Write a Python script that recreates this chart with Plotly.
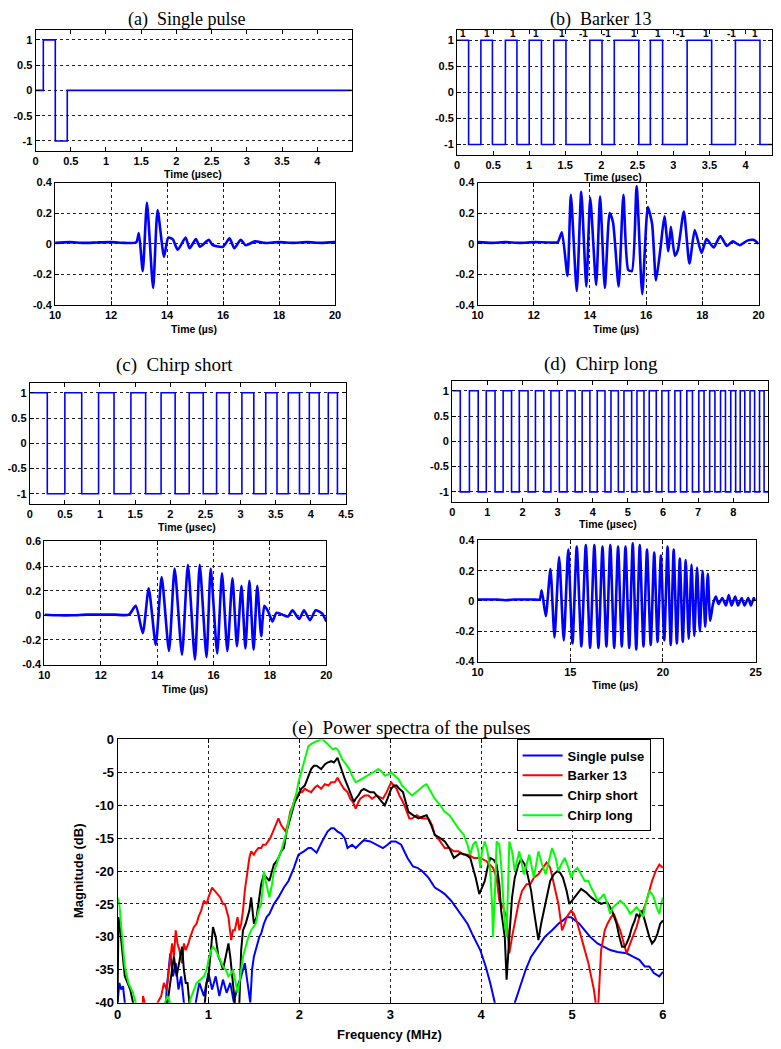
import plotly.graph_objects as go

W, H = 781, 1049
OFF = 8  # page body margin of the rendered html
BLUE = '#0000FF'

# ---------------- DATA ----------------
# (a) single pulse excitation (transition times, level after transition)
a_tx_t = [0, 0.11, 0.28, 0.45, 4.49]
a_tx_v = [0, 1, -1, 0, 0]

# (a) received signal (extrema)
a_rx_t = [10, 10.5, 11, 11.5, 12, 12.5, 12.9, 12.99, 13.13, 13.28, 13.5, 13.66, 13.89, 14.04, 14.2, 14.38,
          14.66, 14.8, 15.03, 15.17, 15.49, 15.63, 16.0, 16.23, 16.4, 16.63, 16.81, 17.14, 17.5, 18, 18.5, 19, 19.5, 20]
a_rx_v = [0.005, 0.01, 0.005, 0.008, 0.01, 0.005, 0.01, 0.07, -0.18, 0.27, -0.29, 0.22, -0.085, 0.04, 0.03, -0.04,
          0.04, -0.03, 0.03, -0.02, 0.025, -0.01, -0.02, 0.035, -0.03, 0.025, -0.01, 0.015, 0.005, 0.01, 0.005, 0.01, 0.005, 0.01]

# (b) Barker 13 excitation
b_tx_t = [0, 0.16, 0.33, 0.49, 0.67, 0.83, 1.00, 1.17, 1.34, 1.51, 1.84, 2.01, 2.18, 2.52, 2.68, 2.85,
          3.19, 3.53, 3.86, 4.20, 4.37]
b_tx_v = [1, -1, 1, -1, 1, -1, 1, -1, 1, -1, 1, -1, 1, -1, 1, -1, 1, -1, 1, -1, -1]
b_code = ['1', '1', '1', '1', '1', '-1', '-1', '1', '1', '-1', '1', '-1', '1']
b_code_t = [0.08, 0.42, 0.77, 1.09, 1.45, 1.75, 2.07, 2.45, 2.78, 3.10, 3.45, 3.81, 4.13]

b_rx_t = [10, 10.5, 11, 11.5, 12, 12.5, 12.85, 13.0, 13.2, 13.32, 13.53, 13.69, 13.87, 14.01, 14.22, 14.36, 14.53,
          14.7, 14.82, 15.02, 15.19, 15.36, 15.49, 15.66, 15.86, 16.06, 16.21, 16.35, 16.51, 16.65, 16.79, 16.88,
          17.02, 17.13, 17.34, 17.54, 17.73, 17.97, 18.15, 18.40, 18.64, 18.87, 19.08, 19.33, 19.6, 19.81, 20]
b_rx_v = [0.01, 0.005, 0.01, 0.005, 0.01, 0.008, 0.01, 0.075, -0.21, 0.32, -0.31, 0.34, -0.28, 0.30, -0.27, 0.31, -0.29,
          0.2, 0.14, -0.28, 0.32, -0.17, -0.18, 0.375, -0.33, 0.24, 0.13, -0.24, -0.03, 0.18, -0.05, 0.11,
          -0.08, -0.04, 0.21, -0.13, 0.09, -0.06, 0.03, -0.025, 0.05, -0.015, 0.015, -0.01, 0.02, 0.025, 0.0]

# (c) chirp short excitation
c_tx_t = [0, 0.25, 0.50, 0.74, 0.98, 1.20, 1.44, 1.65, 1.87, 2.07, 2.27, 2.47, 2.66, 2.84, 3.02, 3.19,
          3.36, 3.52, 3.68, 3.84, 3.98, 4.12, 4.25, 4.38, 4.5]
c_tx_v = [1, -1, 1, -1, 1, -1, 1, -1, 1, -1, 1, -1, 1, -1, 1, -1, 1, -1, 1, -1, 1, -1, 1, -1, -1]

c_rx_t = [10, 10.5, 11, 11.5, 12, 12.5, 13.0, 13.24, 13.49, 13.7, 13.95, 14.16, 14.42, 14.62, 14.88, 15.09, 15.34,
          15.51, 15.75, 15.9, 16.13, 16.3, 16.49, 16.67, 16.83, 16.99, 17.13, 17.27, 17.42, 17.55, 17.69, 17.8,
          17.94, 18.09, 18.23, 18.5, 18.64, 18.8, 19.04, 19.21, 19.42, 19.62, 19.85, 20]
c_rx_v = [0.005, 0.0, 0.0, 0.005, 0.005, 0.005, 0.005, 0.077, -0.145, 0.22, -0.24, 0.31, -0.29, 0.38, -0.32, 0.41, -0.36,
          0.41, -0.34, 0.38, -0.31, 0.34, -0.29, 0.30, -0.25, 0.24, -0.27, 0.28, -0.28, 0.24, -0.17, 0.077,
          0.03, -0.05, 0.02, 0.0, -0.01, 0.04, -0.03, 0.04, -0.04, 0.04, 0.015, -0.05]

# (d) chirp long excitation
d_tx_t = [0, 0.23, 0.49, 0.74, 0.97, 1.22, 1.45, 1.69, 1.91, 2.16, 2.37, 2.61, 2.81, 3.05, 3.27, 3.50,
          3.70, 3.92, 4.13, 4.35, 4.52, 4.73, 4.89, 5.11, 5.26, 5.46, 5.61, 5.81, 5.97, 6.16, 6.34, 6.50,
          6.68, 6.84, 7.02, 7.17, 7.33, 7.48, 7.64, 7.78, 7.93, 8.07, 8.20, 8.33, 8.48, 8.61, 8.75, 8.88, 9.0]
d_tx_v = [1, -1, 1, -1, 1, -1, 1, -1, 1, -1, 1, -1, 1, -1, 1, -1, 1, -1, 1, -1, 1, -1, 1, -1,
          1, -1, 1, -1, 1, -1, 1, -1, 1, -1, 1, -1, 1, -1, 1, -1, 1, -1, 1, -1, 1, -1, 1, -1, -1]

d_rx_t = [10, 10.5, 11, 11.5, 12, 12.5, 13, 13.35,
          13.46, 13.68, 13.93, 14.15, 14.40, 14.65, 14.89, 15.12, 15.35, 15.6, 15.84, 16.07, 16.30, 16.52,
          16.74, 16.95, 17.16, 17.37, 17.58, 17.78, 17.98, 18.18, 18.37, 18.56, 18.75, 18.95, 19.14, 19.34,
          19.53, 19.71, 19.89, 20.07, 20.25, 20.42, 20.58, 20.75, 20.91, 21.07, 21.23, 21.39, 21.54, 21.69,
          21.84, 21.99, 22.14, 22.28, 22.42, 22.55,
          22.7, 22.85, 23.0, 23.2, 23.4, 23.55, 23.7, 23.9, 24.05, 24.25, 24.4, 24.6, 24.75, 24.9, 25]
d_rx_v = [0.01, 0.01, 0.01, 0.005, 0.01, 0.01, 0.01, 0.01,
          0.07, -0.1, 0.21, -0.24, 0.29, -0.26, 0.34, -0.28, 0.36, -0.3, 0.37, -0.31, 0.37, -0.31,
          0.36, -0.3, 0.37, -0.31, 0.36, -0.3, 0.36, -0.31, 0.38, -0.32, 0.37, -0.3, 0.34, -0.29,
          0.32, -0.27, 0.30, -0.26, 0.36, -0.29, 0.34, -0.28, 0.28, -0.27, 0.27, -0.25, 0.24, -0.23,
          0.22, -0.2, 0.20, -0.17, 0.18, -0.13,
          -0.02, 0.03, -0.02, 0.02, -0.03, 0.04, -0.03, 0.03, -0.03, 0.02, -0.03, 0.02, -0.03, 0.02, 0.0]

# (e) power spectra: (frequency MHz, magnitude dB); values below -40 are off-axis
spec_single = [(0.00, -40), (0.02, -37), (0.04, -38), (0.06, -37.5), (0.08, -40), (0.10, -50),
    (0.50, -50), (0.54, -38), (0.58, -32.5), (0.61, -36), (0.64, -34), (0.67, -38), (0.70, -36), (0.73, -40), (0.76, -50),
    (0.82, -50), (0.86, -40), (0.90, -37), (0.95, -39), (1.00, -35.5), (1.04, -38), (1.08, -36), (1.12, -39),
    (1.16, -36.5), (1.20, -38.5), (1.24, -37), (1.28, -40), (1.32, -37.5), (1.36, -36), (1.40, -34), (1.43, -37),
    (1.46, -40), (1.48, -35), (1.50, -33), (1.53, -31.5), (1.56, -30), (1.58, -29.5), (1.61, -28), (1.64, -27),
    (1.67, -26.5), (1.72, -25), (1.77, -24), (1.83, -22.5), (1.88, -21.5), (1.94, -19.5), (1.99, -17.5), (2.05, -17),
    (2.10, -16.5), (2.13, -16.5), (2.19, -17.2), (2.25, -15.5), (2.31, -14), (2.35, -13.5), (2.38, -13.5), (2.42, -14),
    (2.46, -14.3), (2.50, -15), (2.53, -16.5), (2.58, -16), (2.62, -16.5), (2.67, -15.8), (2.71, -15.3), (2.78, -15.5),
    (2.85, -16), (2.92, -16.5), (2.97, -16), (3.01, -15.5), (3.06, -15.5), (3.12, -16), (3.19, -18), (3.25, -19.3),
    (3.30, -19.5), (3.35, -20), (3.42, -21), (3.49, -22.5), (3.55, -23), (3.60, -23.5), (3.67, -24.5), (3.72, -25.5),
    (3.78, -26.5), (3.85, -28), (3.90, -29.5), (3.95, -31), (3.99, -32), (4.05, -34.5), (4.10, -37), (4.15, -40), (4.18, -50),
    (4.33, -50), (4.37, -40), (4.43, -37.5), (4.49, -35), (4.55, -33), (4.60, -32), (4.65, -31), (4.70, -30), (4.78, -29),
    (4.85, -28), (4.90, -27.5), (4.94, -27), (4.99, -27), (5.03, -27.5), (5.08, -28), (5.14, -29), (5.20, -30),
    (5.28, -31), (5.35, -31.5), (5.42, -32), (5.50, -32.3), (5.60, -32.5), (5.67, -33), (5.74, -33.5), (5.80, -34.5),
    (5.85, -34.5), (5.90, -35.5), (5.96, -36), (6.00, -35.3)]

spec_barker = [(0.26, -50), (0.28, -39), (0.30, -40), (0.32, -50),
    (0.40, -50), (0.44, -40), (0.48, -39), (0.51, -37), (0.54, -38), (0.57, -34.5), (0.60, -31), (0.62, -33), (0.64, -29),
    (0.66, -31), (0.68, -32), (0.71, -34), (0.73, -31), (0.75, -32), (0.78, -31), (0.80, -30), (0.84, -28.5), (0.87, -28),
    (0.89, -27), (0.92, -26), (0.95, -24.5), (0.98, -25), (1.00, -24), (1.04, -22.5), (1.07, -23), (1.10, -23.5),
    (1.13, -24), (1.16, -25), (1.18, -25), (1.20, -26), (1.22, -27), (1.25, -30.5), (1.27, -29), (1.29, -29), (1.32, -27),
    (1.34, -29), (1.36, -28), (1.38, -26), (1.40, -23), (1.43, -20), (1.45, -18), (1.47, -17), (1.50, -17.5), (1.52, -17),
    (1.55, -16.5), (1.58, -16.5), (1.60, -16), (1.63, -16), (1.66, -15.5), (1.68, -15), (1.71, -14), (1.74, -13),
    (1.77, -12), (1.80, -13), (1.83, -13.5), (1.85, -14), (1.88, -12.5), (1.90, -11), (1.93, -10), (1.95, -9),
    (1.98, -8.5), (2.00, -8), (2.03, -8), (2.06, -7.5), (2.10, -7.8), (2.13, -8), (2.17, -7.3), (2.20, -7), (2.24, -7.5),
    (2.28, -6.8), (2.32, -7), (2.35, -6.5), (2.39, -6.5), (2.42, -5.8), (2.46, -6.8), (2.49, -7.5), (2.53, -8),
    (2.56, -9), (2.59, -9.5), (2.62, -10.5), (2.65, -9.5), (2.67, -9), (2.72, -8.5), (2.76, -8.5), (2.80, -9),
    (2.85, -8.5), (2.89, -8.8), (2.92, -9), (2.96, -8), (3.01, -6.5), (3.04, -7), (3.07, -7.5), (3.10, -8.5),
    (3.14, -9.5), (3.17, -10.5), (3.21, -12), (3.24, -12), (3.29, -11.5), (3.35, -12), (3.42, -12), (3.46, -13),
    (3.49, -14.5), (3.55, -15.5), (3.60, -16.5), (3.65, -16.5), (3.70, -17), (3.75, -17), (3.81, -17.5), (3.86, -17.5),
    (3.92, -18), (3.99, -18), (4.06, -18.5), (4.13, -19.5), (4.17, -21), (4.20, -24.5), (4.24, -25.5), (4.28, -27),
    (4.31, -32.5), (4.34, -30), (4.37, -28), (4.41, -25), (4.45, -23), (4.50, -22), (4.54, -22), (4.58, -21),
    (4.63, -20.5), (4.68, -19.5), (4.72, -18.7), (4.76, -19.5), (4.81, -22.5), (4.85, -25), (4.89, -29), (4.92, -28),
    (4.94, -27), (4.99, -26), (5.02, -26.5), (5.06, -28), (5.10, -30), (5.14, -32), (5.18, -34), (5.21, -36),
    (5.24, -38), (5.26, -40), (5.27, -44), (5.29, -40), (5.32, -32), (5.36, -29), (5.39, -28), (5.43, -27),
    (5.46, -26.5), (5.50, -28), (5.53, -29), (5.57, -31), (5.60, -32.5), (5.64, -31), (5.67, -30), (5.71, -28.5),
    (5.74, -27), (5.78, -26), (5.81, -25), (5.85, -23), (5.88, -21.5), (5.92, -20), (5.96, -19), (6.00, -19.5)]

spec_chirp_short = [(0.00, -40), (0.01, -27), (0.03, -29), (0.05, -32), (0.08, -36), (0.11, -37), (0.14, -38),
    (0.17, -40), (0.19, -50),
    (0.52, -50), (0.55, -40), (0.57, -38), (0.60, -35), (0.62, -33), (0.65, -36), (0.68, -34), (0.71, -31.5),
    (0.73, -35), (0.75, -37), (0.77, -37), (0.79, -40), (0.81, -50),
    (0.93, -50), (0.96, -40), (0.98, -37), (1.00, -36), (1.03, -32), (1.05, -28.5), (1.08, -30), (1.11, -33),
    (1.14, -34), (1.16, -35), (1.19, -33), (1.22, -31), (1.24, -33), (1.27, -37), (1.30, -40), (1.32, -44),
    (1.34, -40), (1.36, -32), (1.38, -29), (1.41, -28), (1.43, -27), (1.45, -26), (1.47, -24), (1.50, -28),
    (1.53, -27), (1.56, -24), (1.58, -22), (1.61, -20.5), (1.64, -21), (1.67, -21.5), (1.70, -20), (1.72, -19),
    (1.75, -18.5), (1.77, -18), (1.80, -17), (1.83, -16.5), (1.86, -14), (1.89, -12.5), (1.92, -11), (1.95, -9.5),
    (1.99, -8.5), (2.02, -7.5), (2.06, -7), (2.10, -5.5), (2.13, -4.5), (2.16, -4), (2.19, -4), (2.22, -4.3),
    (2.24, -4.5), (2.28, -3.8), (2.31, -3.5), (2.35, -3.3), (2.38, -3.5), (2.42, -2.8), (2.45, -4), (2.47, -5),
    (2.50, -6), (2.53, -7), (2.56, -8), (2.60, -9.5), (2.62, -9), (2.65, -8.5), (2.68, -7.8), (2.71, -7.5),
    (2.75, -7.8), (2.78, -8), (2.82, -8), (2.85, -8.5), (2.89, -9), (2.94, -10), (2.97, -9), (3.01, -7.5),
    (3.04, -7), (3.07, -7), (3.10, -7.5), (3.14, -8), (3.17, -9.5), (3.20, -11), (3.25, -11.5), (3.31, -12),
    (3.36, -11.7), (3.40, -11.5), (3.45, -13), (3.49, -14.5), (3.55, -15), (3.60, -15.5), (3.65, -16.5),
    (3.70, -18), (3.77, -17.3), (3.83, -17.5), (3.88, -18), (3.91, -19.5), (3.94, -21), (3.98, -23.5),
    (4.01, -22.5), (4.04, -21.5), (4.07, -19.5), (4.10, -18), (4.14, -18.3), (4.17, -19), (4.20, -22), (4.22, -26),
    (4.26, -30), (4.28, -36.5), (4.31, -30), (4.34, -24), (4.37, -21), (4.41, -19), (4.44, -18.2), (4.48, -19),
    (4.51, -20.5), (4.55, -23), (4.58, -26), (4.61, -29), (4.63, -30.5), (4.66, -28), (4.69, -26), (4.73, -23.5),
    (4.76, -21.5), (4.80, -20.5), (4.84, -20), (4.87, -20.3), (4.90, -21), (4.94, -23), (4.97, -25), (5.00, -24.5),
    (5.05, -23.5), (5.10, -22.7), (5.15, -23.2), (5.21, -24), (5.26, -24.5), (5.32, -25), (5.36, -24.8),
    (5.39, -24.8), (5.44, -26), (5.49, -28), (5.52, -30), (5.55, -31.5), (5.58, -31.5), (5.60, -31), (5.63, -30),
    (5.66, -28.5), (5.69, -27.5), (5.71, -26.5), (5.74, -27), (5.76, -26), (5.79, -27), (5.81, -28), (5.85, -30),
    (5.88, -31), (5.91, -30.5), (5.94, -29.5), (5.97, -28), (6.00, -27.5)]

spec_chirp_long = [(0.00, -24), (0.02, -25), (0.05, -30), (0.08, -34.5), (0.12, -37), (0.15, -38), (0.17, -38.5),
    (0.20, -40), (0.22, -50),
    (0.50, -50), (0.52, -40), (0.55, -39), (0.58, -40), (0.60, -50),
    (0.77, -50), (0.80, -39.5), (0.84, -38), (0.87, -37), (0.91, -36.5), (0.95, -36), (0.98, -35), (1.00, -33.5),
    (1.03, -32), (1.05, -31.5), (1.08, -32), (1.11, -33), (1.14, -34), (1.16, -34.5), (1.19, -35), (1.22, -36),
    (1.25, -35.5), (1.27, -35), (1.30, -37), (1.32, -38.5), (1.34, -37), (1.36, -35), (1.38, -33), (1.41, -31.5),
    (1.44, -30), (1.47, -29), (1.50, -28.5), (1.52, -28), (1.55, -26), (1.58, -25), (1.60, -22), (1.61, -20),
    (1.63, -21.5), (1.65, -23), (1.67, -24), (1.70, -22), (1.72, -20), (1.75, -19), (1.77, -18), (1.80, -17),
    (1.83, -15.5), (1.86, -14), (1.88, -12.5), (1.91, -11), (1.94, -9.5), (1.97, -8), (1.99, -6.5), (2.02, -5),
    (2.04, -4), (2.07, -2.5), (2.10, -1), (2.13, -0.7), (2.15, -0.5), (2.18, -0.3), (2.21, -0.2), (2.23, 0),
    (2.26, 0), (2.29, -0.4), (2.31, -0.8), (2.34, -1.2), (2.37, -1.5), (2.40, -1.3), (2.42, -1.5), (2.45, -2.3),
    (2.47, -3), (2.51, -3.7), (2.55, -4.5), (2.58, -5.5), (2.62, -6.5), (2.66, -6.2), (2.71, -5.8), (2.76, -5.4),
    (2.80, -5), (2.83, -4.8), (2.87, -4.5), (2.90, -4.8), (2.94, -5.5), (2.98, -5.3), (3.01, -5), (3.05, -5.5),
    (3.09, -6), (3.13, -7), (3.16, -7.5), (3.20, -8), (3.24, -8.5), (3.29, -8), (3.33, -7.5), (3.37, -7),
    (3.40, -6.8), (3.44, -7.8), (3.49, -9), (3.55, -10), (3.60, -11), (3.65, -11.5), (3.70, -12.5), (3.75, -13.5),
    (3.81, -14.5), (3.85, -16), (3.88, -17.5), (3.91, -16), (3.94, -15.5), (3.97, -17), (3.99, -19.5), (4.01, -17),
    (4.04, -15.5), (4.07, -17), (4.10, -20), (4.12, -25), (4.13, -30), (4.15, -24), (4.17, -15.5), (4.20, -16),
    (4.22, -19), (4.24, -24.5), (4.26, -28), (4.28, -30), (4.30, -22), (4.31, -15.5), (4.34, -17), (4.37, -20),
    (4.42, -17), (4.47, -20.5), (4.53, -17.5), (4.58, -21), (4.63, -17), (4.67, -19), (4.71, -20.5), (4.75, -18),
    (4.78, -16.5), (4.82, -18), (4.85, -20), (4.88, -19), (4.92, -18), (4.96, -19.5), (4.99, -21), (5.02, -20),
    (5.06, -19.5), (5.10, -20.5), (5.14, -21.5), (5.18, -21.5), (5.21, -22.5), (5.25, -23.5), (5.28, -24.5),
    (5.32, -24), (5.35, -23.5), (5.39, -25), (5.42, -26.5), (5.45, -25.5), (5.49, -25), (5.53, -24.5), (5.57, -25),
    (5.60, -25.5), (5.64, -26.5), (5.67, -26), (5.71, -25.5), (5.74, -26), (5.78, -27), (5.81, -25), (5.85, -23),
    (5.88, -23.5), (5.90, -24), (5.93, -25.5), (5.96, -26.5), (5.98, -25), (6.00, -24)]

spec_names = ['Single pulse', 'Barker 13', 'Chirp short', 'Chirp long']
spec_colors = ['#0000FF', '#FF0000', '#000000', '#00FF00']

# tick labels
sq_y_ticks = [-1, -0.5, 0, 0.5, 1]
sq_y_text = ['-1', '-0.5', '0', '0.5', '1']
rx_y_ticks = [-0.4, -0.2, 0, 0.2, 0.4]
rx_y_text = ['-0.4', '-0.2', '0', '0.2', '0.4']
c_rx_y_ticks = [-0.4, -0.2, 0, 0.2, 0.4, 0.6]
c_rx_y_text = ['-0.4', '-0.2', '0', '0.2', '0.4', '0.6']
ab_x_ticks = [0, 0.5, 1, 1.5, 2, 2.5, 3, 3.5, 4]
ab_x_text = ['0', '0.5', '1', '1.5', '2', '2.5', '3', '3.5', '4']
c_x_ticks = [0, 0.5, 1, 1.5, 2, 2.5, 3, 3.5, 4, 4.5]
c_x_text = ['0', '0.5', '1', '1.5', '2', '2.5', '3', '3.5', '4', '4.5']
d_x_ticks = [0, 1, 2, 3, 4, 5, 6, 7, 8]
d_x_text = ['0', '1', '2', '3', '4', '5', '6', '7', '8']
rx_x_ticks = [10, 12, 14, 16, 18, 20]
rx_x_text = ['10', '12', '14', '16', '18', '20']
d_rx_x_ticks = [10, 15, 20, 25]
d_rx_x_text = ['10', '15', '20', '25']
e_x_ticks = [0, 1, 2, 3, 4, 5, 6]
e_x_text = ['0', '1', '2', '3', '4', '5', '6']
e_y_ticks = [-40, -35, -30, -25, -20, -15, -10, -5, 0]
e_y_text = ['-40', '-35', '-30', '-25', '-20', '-15', '-10', '-5', '0']

# ---------------- FIGURE ----------------
fig = go.Figure()
SANS = 'Liberation Sans'
SERIF = 'Liberation Serif'


def xdom(x0, x1):
    return [(x0 - OFF) / W, (x1 - OFF) / W]


def ydom(y0, y1):
    return [1 - (y1 - OFF) / H, 1 - (y0 - OFF) / H]


# panel: (xpx, ypx, xrange, xticks, xtext, yrange, yticks, ytext, xgrid, fontsize)
panels = [
    ((25, 349), (23, 146), [0, 4.49], ab_x_ticks, ab_x_text, [-1.2, 1.2], sq_y_ticks, sq_y_text, False, 11),
    ((45, 332), (178, 302), [10, 20], rx_x_ticks, rx_x_text, [-0.4, 0.4], rx_y_ticks, rx_y_text, True, 11),
    ((457, 780), (23, 150), [0, 4.37], ab_x_ticks, ab_x_text, [-1.2, 1.2], sq_y_ticks, sq_y_text, False, 11),
    ((478, 766), (178, 302), [10, 20], rx_x_ticks, rx_x_text, [-0.4, 0.4], rx_y_ticks, rx_y_text, True, 11),
    ((19, 343), (381, 504), [0, 4.5], c_x_ticks, c_x_text, [-1.2, 1.2], sq_y_ticks, sq_y_text, False, 11),
    ((34, 323), (542, 667), [10, 20], rx_x_ticks, rx_x_text, [-0.4, 0.6], c_rx_y_ticks, c_rx_y_text, True, 11),
    ((452, 776), (379, 502), [0, 9.0], d_x_ticks, d_x_text, [-1.2, 1.2], sq_y_ticks, sq_y_text, False, 11),
    ((478, 763), (541, 664), [10, 25], d_rx_x_ticks, d_rx_x_text, [-0.4, 0.4], rx_y_ticks, rx_y_text, True, 11),
    ((109, 668), (743, 1010), [0, 6], e_x_ticks, e_x_text, [-40, 0], e_y_ticks, e_y_text, True, 13),
]

for i, (xp, yp, xr, xt, xtt, yr, yt, ytt, xg, fs) in enumerate(panels):
    n = '' if i == 0 else str(i + 1)
    common = dict(showline=True, linecolor='black', linewidth=1, mirror='ticks', ticks='inside', ticklen=4,
                  tickcolor='black', gridcolor='#222222', griddash='dot', gridwidth=1, zeroline=False,
                  fixedrange=True, tickfont=dict(family=SANS, size=fs, color='black', weight='bold'))
    fig.layout['xaxis' + n] = dict(domain=xdom(*xp), range=xr, tickmode='array', tickvals=xt, ticktext=xtt,
                                   showgrid=xg, anchor='y' + n, **common)
    fig.layout['yaxis' + n] = dict(domain=ydom(*yp), range=yr, tickmode='array', tickvals=yt, ticktext=ytt,
                                   showgrid=True, anchor='x' + n, **common)


def sq(t, v, ax):
    fig.add_trace(go.Scatter(x=t, y=v, mode='lines', line=dict(color=BLUE, width=1.6, shape='hv'),
                             showlegend=False, hoverinfo='skip', xaxis='x' + ax, yaxis='y' + ax))


def rx(t, v, ax):
    fig.add_trace(go.Scatter(x=t, y=v, mode='lines', line=dict(color=BLUE, width=2.6, shape='spline', smoothing=0.6),
                             showlegend=False, hoverinfo='skip', xaxis='x' + ax, yaxis='y' + ax))


sq(a_tx_t, a_tx_v, '')
rx(a_rx_t, a_rx_v, '2')
sq(b_tx_t, b_tx_v, '3')
rx(b_rx_t, b_rx_v, '4')
sq(c_tx_t, c_tx_v, '5')
rx(c_rx_t, c_rx_v, '6')
sq(d_tx_t, d_tx_v, '7')
rx(d_rx_t, d_rx_v, '8')

for pts, name, col in zip([spec_single, spec_barker, spec_chirp_short, spec_chirp_long], spec_names, spec_colors):
    f, m = zip(*pts)
    fig.add_trace(go.Scatter(x=list(f), y=list(m), mode='lines', name=name, line=dict(color=col, width=2),
                             xaxis='x9', yaxis='y9', hoverinfo='skip'))

# Barker code labels
for lab, t in zip(b_code, b_code_t):
    fig.add_annotation(x=t, y=1.12, xref='x3', yref='y3', text=lab, showarrow=False,
                       font=dict(family=SANS, size=10, color='black', weight='bold'))


def ptext(x, y, text, size, family=SANS, bold=True, angle=0):
    fig.add_annotation(x=(x - OFF) / W, y=1 - (y - OFF) / H, xref='paper', yref='paper', text=text, showarrow=False,
                       xanchor='center', yanchor='middle', textangle=angle,
                       font=dict(family=family, size=size, color='black', weight='bold' if bold else 'normal'))


# panel titles
ptext(180, 13, '(a)\u00a0 Single pulse', 18, SERIF, False)
ptext(604, 13, '(b)\u00a0 Barker 13', 18, SERIF, False)
ptext(167, 363, '(c)\u00a0 Chirp short', 19, SERIF, False)
ptext(604, 362, '(d)\u00a0 Chirp long', 19, SERIF, False)
ptext(410, 731, '(e)\u00a0 Power spectra of the pulses', 19, SERIF, False)

# axis labels
ptext(186, 169, 'Time (\u00b5sec)', 10.5)
ptext(617, 172, 'Time (\u00b5sec)', 10.5)
ptext(187, 327, 'Time (\u00b5s)', 10.5)
ptext(620, 327, 'Time (\u00b5s)', 10.5)
ptext(180, 527, 'Time (\u00b5sec)', 10.5)
ptext(612, 524, 'Time (\u00b5sec)', 10.5)
ptext(178, 692, 'Time (\u00b5s)', 10.5)
ptext(619, 688, 'Time (\u00b5s)', 10.5)
ptext(388, 1042, 'Frequency (MHz)', 13)
ptext(69, 876, 'Magnitude (dB)', 13, angle=-90)

fig.update_layout(
    width=W, height=H, autosize=False,
    margin=dict(l=0, r=0, t=0, b=0),
    paper_bgcolor='white', plot_bgcolor='white',
    showlegend=True,
    legend=dict(x=(518 - OFF) / W, y=1 - (743 - OFF) / H, xanchor='left', yanchor='top', bgcolor='white',
                bordercolor='black', borderwidth=1, tracegroupgap=0, itemwidth=40,
                font=dict(family=SANS, size=13, color='black', weight='bold')),
)

fig.write_html('out.html')
